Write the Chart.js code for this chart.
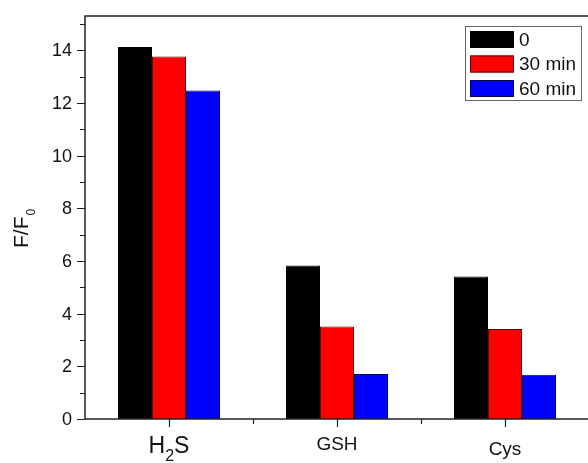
<!DOCTYPE html>
<html>
<head>
<meta charset="utf-8">
<script src="https://cdn.jsdelivr.net/npm/chart.js@4/dist/chart.umd.min.js"></script>
<style>
  html, body { margin: 0; padding: 0; background: #fff; overflow: hidden; }
  #wrap { width: 592px; height: 463px; }
</style>
</head>
<body>
<div id="wrap"><canvas id="chart"></canvas></div>
<script>
// Data
const categories = ['H2S', 'GSH', 'Cys'];
const seriesNames = ['0', '30 min', '60 min'];
const values0 = [14.12, 5.83, 5.41];
const values30 = [13.76, 3.51, 3.42];
const values60 = [12.47, 1.71, 1.68];
const yTicks = [0, 2, 4, 6, 8, 10, 12, 14];

const fillColors = ['#000000', '#ff0000', '#0000ff'];
const edgeColors = ['#000000', '#600000', '#000060'];
const FONT = '"Liberation Sans", Arial, sans-serif';

// Frame, ticks, labels, subscripts and legend drawn by hand (Origin style)
const originStyle = {
  id: 'originStyle',
  afterDraw(chart) {
    const ctx = chart.ctx;
    const area = chart.chartArea;
    const x = chart.scales.x;
    const y = chart.scales.y;
    ctx.save();

    // frame
    ctx.strokeStyle = '#222';
    ctx.lineWidth = 1.5;
    ctx.strokeRect(area.left, area.top, area.right - area.left, area.bottom - area.top);

    // y ticks, major + minor
    ctx.lineWidth = 1.2;
    ctx.beginPath();
    for (let v = 0; v <= y.max; v += 1) {
      const py = Math.round(y.getPixelForValue(v)) + 0.5;
      const len = (v % 2 === 0) ? 8 : 5;
      ctx.moveTo(area.left - len, py);
      ctx.lineTo(area.left, py);
    }
    // x ticks: major at categories, minor between
    categories.forEach((c, i) => {
      const px = Math.round(x.getPixelForValue(i)) + 0.5;
      ctx.moveTo(px, area.bottom);
      ctx.lineTo(px, area.bottom + 8);
      if (i > 0) {
        const mx = Math.round((x.getPixelForValue(i) + x.getPixelForValue(i - 1)) / 2) + 0.5;
        ctx.moveTo(mx, area.bottom);
        ctx.lineTo(mx, area.bottom + 5);
      }
    });
    ctx.stroke();

    // y tick labels
    ctx.fillStyle = '#111';
    ctx.font = '18px ' + FONT;
    ctx.textAlign = 'right';
    ctx.textBaseline = 'middle';
    yTicks.forEach(v => {
      ctx.fillText(String(v), area.left - 13, y.getPixelForValue(v) + 1);
    });

    // x labels
    ctx.textBaseline = 'alphabetic';
    ctx.textAlign = 'left';
    // H2S with subscript
    {
      const cx = x.getPixelForValue(0);
      ctx.font = '23px ' + FONT;
      const wH = ctx.measureText('H').width;
      const wS = ctx.measureText('S').width;
      ctx.font = '16px ' + FONT;
      const w2 = ctx.measureText('2').width;
      let sx = cx - (wH + w2 + wS) / 2;
      ctx.font = '23px ' + FONT;
      ctx.fillText('H', sx, 453);
      ctx.font = '16px ' + FONT;
      ctx.fillText('2', sx + wH, 461);
      ctx.font = '23px ' + FONT;
      ctx.fillText('S', sx + wH + w2, 453);
    }
    ctx.font = '19px ' + FONT;
    ctx.textAlign = 'center';
    ctx.fillText(categories[1], x.getPixelForValue(1), 450);
    ctx.fillText(categories[2], x.getPixelForValue(2), 455);

    // y title F/F0
    ctx.save();
    ctx.translate(28, 248);
    ctx.rotate(-Math.PI / 2);
    ctx.textAlign = 'left';
    ctx.font = '21px ' + FONT;
    ctx.fillText('F/F', 0, 0);
    const wt = ctx.measureText('F/F').width;
    ctx.font = '12px ' + FONT;
    ctx.fillText('0', wt + 1, 7);
    ctx.restore();

    // legend
    ctx.strokeStyle = '#666';
    ctx.lineWidth = 1;
    ctx.strokeRect(465.5, 26.5, 116, 74);
    ctx.font = '19px ' + FONT;
    ctx.textAlign = 'left';
    ctx.textBaseline = 'middle';
    chart.data.datasets.forEach((ds, i) => {
      const top = 31 + i * 24.5;
      ctx.fillStyle = ds.backgroundColor;
      ctx.fillRect(470, top, 44, 17);
      ctx.strokeStyle = ds.borderColor;
      ctx.strokeRect(470.5, top + 0.5, 43, 16);
      ctx.fillStyle = '#111';
      ctx.fillText(ds.label, 519, top + 9.5);
    });

    ctx.restore();
  }
};

new Chart(document.getElementById('chart'), {
  type: 'bar',
  data: {
    labels: categories,
    datasets: [values0, values30, values60].map((vals, i) => ({
      label: seriesNames[i],
      data: vals,
      backgroundColor: fillColors[i],
      borderColor: edgeColors[i],
      borderWidth: 1,
      categoryPercentage: 0.607,
      barPercentage: 1
    }))
  },
  options: {
    responsive: true,
    maintainAspectRatio: false,
    animation: false,
    layout: { padding: { left: 85, top: 16, right: 3, bottom: 44 } },
    plugins: { legend: { display: false }, tooltip: { enabled: false } },
    scales: {
      x: { display: false },
      y: { display: false, min: 0, max: 15.3 }
    }
  },
  plugins: [originStyle]
});
</script>
</body>
</html>
